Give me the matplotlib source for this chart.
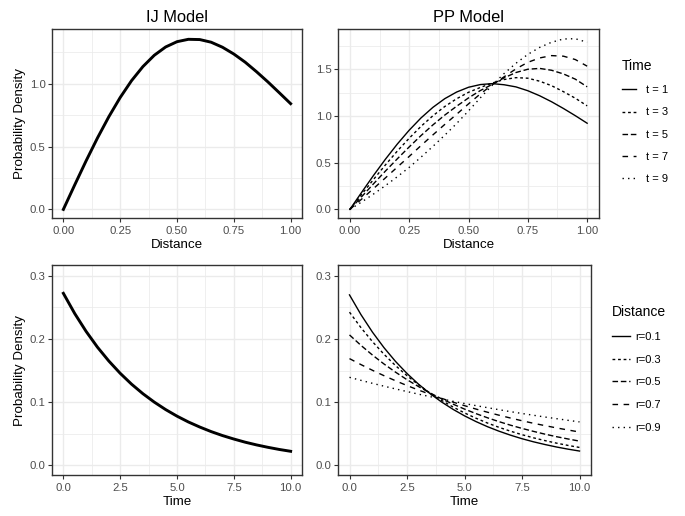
import matplotlib.pyplot as plt
from matplotlib.lines import Line2D

plt.rcParams['font.family'] = ['Liberation Sans', 'DejaVu Sans']

# --- data ------------------------------------------------------------------
dist = [0.00, 0.05, 0.10, 0.15, 0.20, 0.25, 0.30, 0.35, 0.40, 0.45, 0.50,
        0.55, 0.60, 0.65, 0.70, 0.75, 0.80, 0.85, 0.90, 0.95, 1.00]
ij_dist = [0.000, 0.195, 0.386, 0.568, 0.737, 0.890, 1.024, 1.136, 1.226, 1.292,
           1.334, 1.353, 1.351, 1.330, 1.290, 1.236, 1.171, 1.095, 1.014, 0.928, 0.841]
pp_t1 = [0.000, 0.184, 0.365, 0.538, 0.700, 0.848, 0.980, 1.093, 1.186, 1.257,
         1.308, 1.337, 1.347, 1.335, 1.312, 1.271, 1.217, 1.153, 1.081, 1.004, 0.923]
pp_t3 = [0.000, 0.162, 0.322, 0.477, 0.625, 0.762, 0.890, 1.003, 1.102, 1.185,
         1.254, 1.306, 1.353, 1.391, 1.411, 1.405, 1.373, 1.325, 1.261, 1.191, 1.109]
pp_t5 = [0.000, 0.137, 0.275, 0.411, 0.542, 0.669, 0.791, 0.905, 1.010, 1.105,
         1.194, 1.273, 1.339, 1.409, 1.466, 1.501, 1.510, 1.490, 1.451, 1.395, 1.313]
pp_t7 = [0.000, 0.111, 0.224, 0.338, 0.453, 0.567, 0.684, 0.798, 0.910, 1.019,
         1.130, 1.237, 1.335, 1.420, 1.505, 1.575, 1.622, 1.647, 1.641, 1.605, 1.534]
pp_t9 = [0.000, 0.080, 0.165, 0.255, 0.350, 0.450, 0.560, 0.675, 0.795, 0.920,
         1.055, 1.195, 1.330, 1.455, 1.565, 1.660, 1.735, 1.790, 1.825, 1.828, 1.790]
time_labels = ['t = 1', 't = 3', 't = 5', 't = 7', 't = 9']

time = [0.0, 0.5, 1.0, 1.5, 2.0, 2.5, 3.0, 3.5, 4.0, 4.5, 5.0,
        5.5, 6.0, 6.5, 7.0, 7.5, 8.0, 8.5, 9.0, 9.5, 10.0]
ij_time = [0.2723, 0.2403, 0.2121, 0.1871, 0.1652, 0.1458, 0.1286, 0.1135, 0.1002, 0.0884,
           0.0780, 0.0688, 0.0608, 0.0536, 0.0473, 0.0418, 0.0368, 0.0325, 0.0287, 0.0253, 0.0224]
pp_r01 = [0.2698, 0.2385, 0.2108, 0.1863, 0.1646, 0.1455, 0.1286, 0.1137, 0.1005, 0.0888,
          0.0785, 0.0694, 0.0613, 0.0542, 0.0479, 0.0423, 0.0374, 0.0331, 0.0292, 0.0258, 0.0228]
pp_r03 = [0.2425, 0.2179, 0.1958, 0.1759, 0.1580, 0.1420, 0.1276, 0.1146, 0.1030, 0.0925,
          0.0831, 0.0747, 0.0671, 0.0603, 0.0542, 0.0487, 0.0437, 0.0393, 0.0353, 0.0317, 0.0285]
pp_r05 = [0.2065, 0.1899, 0.1746, 0.1605, 0.1476, 0.1357, 0.1248, 0.1147, 0.1055, 0.0970,
          0.0892, 0.0820, 0.0754, 0.0693, 0.0637, 0.0586, 0.0539, 0.0495, 0.0455, 0.0419, 0.0385]
pp_r07 = [0.1690, 0.1595, 0.1505, 0.1420, 0.1340, 0.1264, 0.1193, 0.1126, 0.1062, 0.1002,
          0.0946, 0.0892, 0.0842, 0.0795, 0.0750, 0.0707, 0.0667, 0.0630, 0.0594, 0.0561, 0.0529]
pp_r09 = [0.1394, 0.1346, 0.1299, 0.1254, 0.1211, 0.1169, 0.1128, 0.1089, 0.1052, 0.1015,
          0.0980, 0.0946, 0.0914, 0.0882, 0.0851, 0.0822, 0.0794, 0.0766, 0.0740, 0.0714, 0.0689]
dist_labels = ['r=0.1', 'r=0.3', 'r=0.5', 'r=0.7', 'r=0.9']

x_dist_ticks = [0.0, 0.25, 0.5, 0.75, 1.0]
x_dist_ticklabels = ['0.00', '0.25', '0.50', '0.75', '1.00']
x_time_ticks = [0.0, 2.5, 5.0, 7.5, 10.0]
x_time_ticklabels = ['0.0', '2.5', '5.0', '7.5', '10.0']
y_top_ticks = [0.0, 0.5, 1.0, 1.5]
y_top_ticklabels = ['0.0', '0.5', '1.0', '1.5']
y_bot_ticks = [0.0, 0.1, 0.2, 0.3]
y_bot_ticklabels = ['0.0', '0.1', '0.2', '0.3']

# --- styling ----------------------------------------------------------------
dash_styles = ['-', (0, (2, 2)), (0, (4, 2)), (0, (4, 4)), (0, (1, 3))]
GRID = '#EBEBEB'
BORDER = '#333333'
TICKTXT = '#4D4D4D'


def style_axes(ax, xt, xtl, yt, ytl, xlim, ylim, xlabel, ylabel=None):
    ax.set_xlim(*xlim)
    ax.set_ylim(*ylim)
    ax.set_xticks(xt)
    ax.set_xticklabels(xtl)
    ax.set_yticks([t for t in yt if ylim[0] <= t <= ylim[1]])
    ax.set_yticklabels([l for t, l in zip(yt, ytl) if ylim[0] <= t <= ylim[1]])
    xm = [(a + b) / 2 for a, b in zip(xt[:-1], xt[1:])]
    step = yt[1] - yt[0]
    ym = [yt[0] - step / 2] + [t + step / 2 for t in yt]
    ax.set_xticks(xm, minor=True)
    ax.set_yticks([m for m in ym if ylim[0] < m < ylim[1]], minor=True)
    ax.grid(which='major', color=GRID, lw=1.0)
    ax.grid(which='minor', color=GRID, lw=0.55)
    ax.set_axisbelow(True)
    ax.tick_params(which='major', length=2.6, width=0.8, color=BORDER,
                   labelsize=8.2, labelcolor=TICKTXT)
    ax.tick_params(axis='x', which='major', pad=3)
    ax.tick_params(axis='y', which='major', pad=2)
    ax.tick_params(which='minor', length=0)
    for s in ax.spines.values():
        s.set_color(BORDER)
        s.set_linewidth(1.0)
    ax.set_xlabel(xlabel, fontsize=9.6, labelpad=2.5)
    if ylabel:
        ax.set_ylabel(ylabel, fontsize=9.6, labelpad=3)


W, H = 685, 516
fig = plt.figure(figsize=(W / 100, H / 100), dpi=100)


def rect(x0, y0, x1, y1):
    return [x0 / W, 1 - y1 / H, (x1 - x0) / W, (y1 - y0) / H]


ax_tl = fig.add_axes(rect(52, 29, 302, 218))
ax_tr = fig.add_axes(rect(338, 29, 599, 218))
ax_bl = fig.add_axes(rect(52, 265, 302, 475))
ax_br = fig.add_axes(rect(338, 265, 591, 475))

# IJ vs distance
ax_tl.plot(dist, ij_dist, color='black', lw=2.1)
style_axes(ax_tl, x_dist_ticks, x_dist_ticklabels, y_top_ticks, y_top_ticklabels,
           (-0.05, 1.05), (-0.0684, 1.435), 'Distance', 'Probability Density')
ax_tl.set_title('IJ Model', fontsize=11.8, pad=5)

# PP vs distance
pp_dist_series = [pp_t1, pp_t3, pp_t5, pp_t7, pp_t9]
handles = []
for ys, ls, lab in zip(pp_dist_series, dash_styles, time_labels):
    h, = ax_tr.plot(dist, ys, color='black', lw=1.0, linestyle=ls, label=lab)
    handles.append(h)
style_axes(ax_tr, x_dist_ticks, x_dist_ticklabels, y_top_ticks, y_top_ticklabels,
           (-0.05, 1.05), (-0.092, 1.932), 'Distance')
ax_tr.set_title('PP Model', fontsize=11.8, pad=5)
ax_tr.legend(handles=handles, title='Time', loc='upper left',
             bbox_to_anchor=(622 / W, 1 - 59 / H), bbox_transform=fig.transFigure,
             frameon=False, fontsize=8, title_fontsize=10, handlelength=1.3,
             handletextpad=0.9, labelspacing=1.1, borderpad=0, borderaxespad=0,
             alignment='left')

# IJ vs time
ax_bl.plot(time, ij_time, color='black', lw=2.1)
style_axes(ax_bl, x_time_ticks, x_time_ticklabels, y_bot_ticks, y_bot_ticklabels,
           (-0.5, 10.5), (-0.0151, 0.3171), 'Time', 'Probability Density')

# PP vs time
pp_time_series = [pp_r01, pp_r03, pp_r05, pp_r07, pp_r09]
handles = []
for ys, ls, lab in zip(pp_time_series, dash_styles, dist_labels):
    h, = ax_br.plot(time, ys, color='black', lw=1.0, linestyle=ls, label=lab)
    handles.append(h)
style_axes(ax_br, x_time_ticks, x_time_ticklabels, y_bot_ticks, y_bot_ticklabels,
           (-0.5, 10.5), (-0.0151, 0.3171), 'Time')
ax_br.legend(handles=handles, title='Distance', loc='upper left',
             bbox_to_anchor=(612 / W, 1 - 305 / H), bbox_transform=fig.transFigure,
             frameon=False, fontsize=8, title_fontsize=10, handlelength=1.6,
             handletextpad=0.45, labelspacing=1.15, borderpad=0, borderaxespad=0,
             alignment='left')

fig.savefig('out.png', dpi=100)
